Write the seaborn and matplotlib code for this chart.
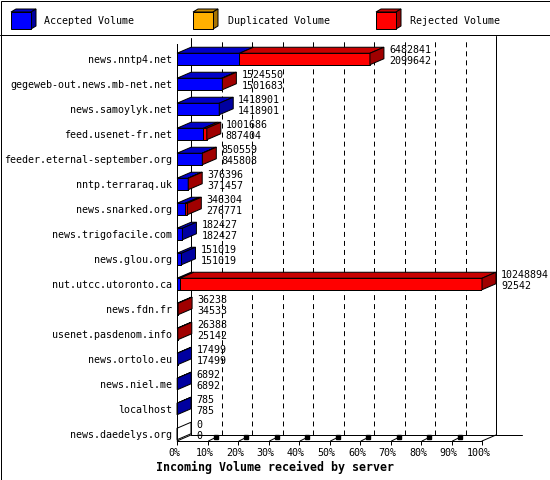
import matplotlib
matplotlib.use("Agg")
import matplotlib.pyplot as plt
import matplotlib.transforms as mtrans
from matplotlib.patches import Polygon, Rectangle
from matplotlib.lines import Line2D
import seaborn as sns
import numpy as np
import pandas as pd

# ---------------- data ----------------
servers = [
    "news.nntp4.net", "gegeweb-out.news.mb-net.net", "news.samoylyk.net",
    "feed.usenet-fr.net", "feeder.eternal-september.org", "nntp.terraraq.uk",
    "news.snarked.org", "news.trigofacile.com", "news.glou.org",
    "nut.utcc.utoronto.ca", "news.fdn.fr", "usenet.pasdenom.info",
    "news.ortolo.eu", "news.niel.me", "localhost", "news.daedelys.org",
]
total_volume = [6482841, 1524550, 1418901, 1001686, 850559, 376396, 346304,
                182427, 151019, 10248894, 36238, 26388, 17499, 6892, 785, 0]
accepted_volume = [2099642, 1501683, 1418901, 887404, 845808, 371457, 276771,
                   182427, 151019, 92542, 34533, 25142, 17499, 6892, 785, 0]
legend_labels = ["Accepted Volume", "Duplicated Volume", "Rejected Volume"]
x_ticks = list(range(0, 101, 10))
x_title = "Incoming Volume received by server"

# ---------------- style ----------------
sns.set_theme(style="white")
plt.rcParams["font.family"] = ["DejaVu Sans Mono", "DejaVu Sans"]
plt.rcParams["lines.scale_dashes"] = False

BLUE, BLUE_TOP, BLUE_SIDE = "#0000FF", "#0000C8", "#0000A0"
RED, RED_TOP, RED_SIDE = "#FF0000", "#C80000", "#A00000"
ORANGE, ORANGE_TOP, ORANGE_SIDE = "#FFB000", "#C88A00", "#A87400"
LW = 0.72  # 1 px
FS = 7.2

W, H = 550, 480
fig = plt.figure(figsize=(W / 100, H / 100), dpi=100)
fig.patch.set_facecolor("white")

# pixel-space transform (origin top-left) for the frame & legend
pix = mtrans.Affine2D().scale(1 / W, -1 / H).translate(0, 1) + fig.transFigure

# front face plotting region
L, R, T, B = 177, 482, 44, 441
ax = fig.add_axes([L / W, (H - B) / H, (R - L) / W, (B - T) / H])
ax.set_facecolor("none")

maxv = max(total_volume)
df = pd.DataFrame({
    "server": servers,
    "total": [v / maxv * 100 for v in total_volume],
    "accepted": [v / maxv * 100 for v in accepted_volume],
})

BAR_H = 0.46
sns.barplot(data=df, x="total", y="server", order=servers, orient="h",
            color=RED, saturation=1, width=BAR_H, edgecolor="black",
            linewidth=LW, ax=ax, zorder=3)
sns.barplot(data=df, x="accepted", y="server", order=servers, orient="h",
            color=BLUE, saturation=1, width=BAR_H, edgecolor="black",
            linewidth=LW, ax=ax, zorder=3)

YTOP, YBOT = -0.6, len(servers) - 1 + 0.28
ax.set_xlim(0, 100)
ax.set_ylim(YBOT, YTOP)

# depth offsets in data units (14 px right, 6 px up)
px_x = (R - L) / 100.0
px_y = 25.0
DX = 14 / px_x
DY = -6 / px_y

# back wall / floor lines
yb_back, yt_back = YBOT + DY, YTOP + DY
for k in x_ticks[1:-1]:
    ax.add_line(Line2D([k + DX, k + DX], [yb_back, yt_back], color="black",
                       lw=LW, dashes=(3.6, 2.9), clip_on=False, zorder=0.5))
ax.add_line(Line2D([DX, DX], [yb_back, yt_back], color="black", lw=LW,
                   clip_on=False, zorder=0.6))
ax.add_line(Line2D([100 + DX, 100 + DX], [yb_back, yt_back - 0.08],
                   color="black", lw=LW, clip_on=False, zorder=0.6))
ax.add_line(Line2D([DX, 100 + DX + 26 / px_x], [yb_back, yb_back],
                   color="black", lw=LW, clip_on=False, zorder=0.6))
ax.add_line(Line2D([0, DX], [YBOT, yb_back], color="black", lw=LW,
                   clip_on=False, zorder=0.6))
ax.add_line(Line2D([100, 100 + DX], [YBOT, yb_back], color="black", lw=LW,
                   clip_on=False, zorder=0.6))
# floor tick marks
for k in x_ticks[1:-1]:
    ax.add_line(Line2D([k + 1 / px_x, k + 0.5 * DX], [YBOT, YBOT + 0.5 * DY],
                       color="black", lw=LW, clip_on=False, zorder=0.7))
    ax.plot([k + 0.6 * DX], [YBOT + 0.6 * DY], marker="s", ms=2.2,
            color="black", clip_on=False, zorder=0.7)

# 3D faces of bars
for i, (t, a) in enumerate(zip(df["total"], df["accepted"])):
    top, bot = i - BAR_H / 2, i + BAR_H / 2
    if a > 0:
        ax.add_patch(Polygon([(0, top), (DX, top + DY), (a + DX, top + DY), (a, top)],
                             closed=True, fc=BLUE_TOP, ec="black", lw=LW,
                             clip_on=False, zorder=4))
    if t > a:
        ax.add_patch(Polygon([(a, top), (a + DX, top + DY), (t + DX, top + DY), (t, top)],
                             closed=True, fc=RED_TOP, ec="black", lw=LW,
                             clip_on=False, zorder=4))
    if t <= 0:
        side_c = "white"
    elif t > a:
        side_c = RED_SIDE
    else:
        side_c = BLUE_SIDE
    ax.add_patch(Polygon([(t, top), (t + DX, top + DY), (t + DX, bot + DY), (t, bot)],
                         closed=True, fc=side_c, ec="black", lw=LW,
                         clip_on=False, zorder=4))
    tx = t + DX + 5 / px_x
    ax.text(tx, i - 0.36, str(total_volume[i]), fontsize=FS, va="center",
            ha="left", color="black", clip_on=False, zorder=6)
    ax.text(tx, i + 0.06, str(accepted_volume[i]), fontsize=FS, va="center",
            ha="left", color="black", clip_on=False, zorder=6)

# axes cosmetics
for s in ["top", "right"]:
    ax.spines[s].set_visible(False)
for s in ["left", "bottom"]:
    ax.spines[s].set_color("black")
    ax.spines[s].set_linewidth(LW)
    ax.spines[s].set_zorder(5)
ax.set_xlabel("")
ax.set_ylabel("")
ax.set_xticks(x_ticks)
ax.set_xticklabels([f"{v}%" for v in x_ticks])
ax.set_yticks(range(len(servers)))
ax.set_yticklabels(servers)
ax.tick_params(axis="x", direction="out", length=2.9, width=LW, pad=2.5,
               labelsize=FS, colors="black", bottom=True)
ax.tick_params(axis="y", length=0, pad=3.6, labelsize=FS, colors="black", left=False)
shift = mtrans.ScaledTranslation(-3 / 100, 0, fig.dpi_scale_trans)
for lbl in ax.get_xticklabels():
    lbl.set_transform(lbl.get_transform() + shift)
ax.grid(False)

fig.text(156 / W, 1 - 467 / H, x_title, fontsize=8.4, fontweight="bold",
         ha="left", va="center", color="black")

# frame and legend
fig.patches.append(Rectangle((0.5, 0.5), W - 1, H - 1, transform=pix, fill=False,
                             ec="black", lw=LW))
fig.lines.append(Line2D([0, W], [34.5, 34.5], transform=pix, color="black", lw=LW))

def swatch(x0, front, topc, side):
    x1, y0, y1, d, u = x0 + 20, 12, 29, 5, 3
    fig.patches.append(Polygon([(x0, y0), (x0 + d, y0 - u), (x1 + d, y0 - u), (x1, y0)],
                               closed=True, transform=pix, fc=topc, ec="black", lw=LW))
    fig.patches.append(Polygon([(x1, y0), (x1 + d, y0 - u), (x1 + d, y1 - u), (x1, y1)],
                               closed=True, transform=pix, fc=side, ec="black", lw=LW))
    fig.patches.append(Rectangle((x0, y0), x1 - x0, y1 - y0, transform=pix,
                                 fc=front, ec="black", lw=LW))

for x0, tx, lab, cols in [(11, 44, legend_labels[0], (BLUE, BLUE_TOP, BLUE_SIDE)),
                          (193, 228, legend_labels[1], (ORANGE, ORANGE_TOP, ORANGE_SIDE)),
                          (376, 410, legend_labels[2], (RED, RED_TOP, RED_SIDE))]:
    swatch(x0, *cols)
    fig.text(tx / W, 1 - 20.5 / H, lab, fontsize=FS, ha="left", va="center",
             color="black")

fig.savefig("out.png", dpi=100, facecolor="white")
